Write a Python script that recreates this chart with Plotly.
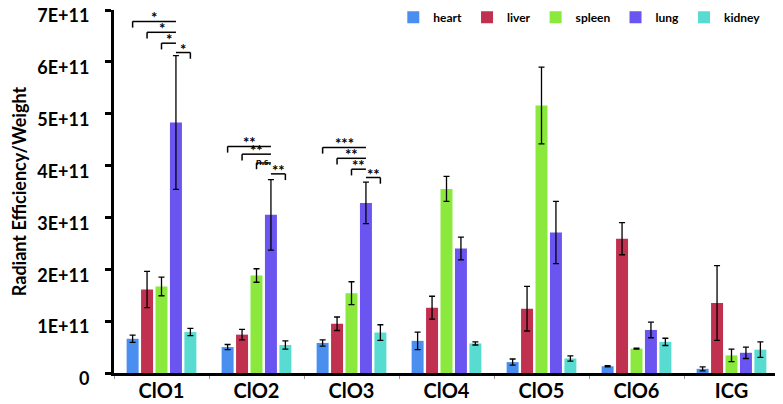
import plotly.graph_objects as go

# data (values in units of 1E+11)
categories = ["ClO1", "ClO2", "ClO3", "ClO4", "ClO5", "ClO6", "ICG"]
organs = ["heart", "liver", "spleen", "lung", "kidney"]

heart = [0.66, 0.50, 0.58, 0.62, 0.21, 0.13, 0.08]
heart_err = [0.07, 0.05, 0.06, 0.17, 0.06, 0.01, 0.04]
liver = [1.61, 0.74, 0.95, 1.26, 1.24, 2.59, 1.35]
liver_err = [0.35, 0.10, 0.13, 0.22, 0.43, 0.31, 0.72]
spleen = [1.67, 1.88, 1.54, 3.55, 5.16, 0.47, 0.34]
spleen_err = [0.18, 0.13, 0.22, 0.24, 0.74, 0.01, 0.12]
lung = [4.83, 3.05, 3.28, 2.40, 2.71, 0.83, 0.39]
lung_err = [1.29, 0.68, 0.40, 0.22, 0.60, 0.15, 0.11]
kidney = [0.79, 0.54, 0.78, 0.57, 0.28, 0.60, 0.45]
kidney_err = [0.07, 0.08, 0.15, 0.03, 0.05, 0.07, 0.15]

colors = ["#4a8ff0", "#c0304f", "#8be83c", "#6b55f0", "#58dcd2"]

# significance brackets: (category, from organ, to organ, height, label)
sig_cat = [0, 0, 0, 0, 1, 1, 1, 1, 2, 2, 2, 2]
sig_from = [0, 1, 2, 3, 0, 1, 2, 3, 0, 1, 2, 3]
sig_to = [3, 3, 3, 4, 3, 3, 3, 4, 3, 3, 3, 4]
sig_y = [6.78, 6.57, 6.36, 6.18, 4.37, 4.22, 4.05, 3.84, 4.35, 4.14, 3.93, 3.77]
sig_text = ["*", "*", "*", "*", "**", "**", "n.s.", "**", "***", "**", "**", "**"]

SCALE = 1e11
BARGAP = 0.24
FONT = "Lato"

fig = go.Figure()

series = [(heart, heart_err), (liver, liver_err), (spleen, spleen_err),
          (lung, lung_err), (kidney, kidney_err)]

for name, color, (vals, errs) in zip(organs, colors, series):
    fig.add_trace(go.Bar(
        name=name,
        x=categories,
        y=[v * SCALE for v in vals],
        marker_color=color,
        marker_line_width=0,
        error_y=dict(
            type="data",
            array=[e * SCALE for e in errs],
            color="black",
            thickness=1.3,
            width=3
        )
    ))

# brackets
slot = (1 - BARGAP) / len(organs)
drop = 0.12 * SCALE
for c, a, b, h, txt in zip(sig_cat, sig_from, sig_to, sig_y, sig_text):
    x0 = c + (a - 2) * slot
    x1 = c + (b - 2) * slot
    y = h * SCALE
    line = dict(color="black", width=1.5)
    fig.add_shape(type="line", xref="x", yref="y", x0=x0, x1=x1, y0=y, y1=y, line=line)
    if b == 4:
        fig.add_shape(type="line", xref="x", yref="y", x0=x1, x1=x1, y0=y, y1=y - drop, line=line)
    else:
        fig.add_shape(type="line", xref="x", yref="y", x0=x0, x1=x0, y0=y, y1=y - drop, line=line)
    star = txt != "n.s."
    fig.add_annotation(
        x=(x0 + x1) / 2, y=y, xref="x", yref="y",
        text=txt, showarrow=False, yanchor="bottom",
        yshift=-7 if star else -6,
        font=dict(family=FONT, size=15 if star else 10, color="black", weight="bold")
    )

# page body adds an 8px margin, so the figure is sized to fit the window
fig.update_layout(
    width=775,
    height=396,
    template="plotly_white",
    paper_bgcolor="white",
    plot_bgcolor="white",
    margin=dict(l=106, r=4, t=2, b=31, autoexpand=False),
    bargap=BARGAP,
    bargroupgap=0.17,
    font=dict(family=FONT, size=14, color="black"),
    showlegend=True,
    legend=dict(
        orientation="h",
        x=0.42,
        xanchor="left",
        y=1.02,
        yanchor="top",
        font=dict(family=FONT, size=12, color="black", weight="bold"),
        itemwidth=30,
        bgcolor="rgba(0,0,0,0)"
    )
)

fig.update_xaxes(
    showgrid=False,
    showline=True,
    linecolor="black",
    linewidth=3,
    ticks="outside",
    tickson="boundaries",
    ticklen=3,
    tickcolor="#999999",
    ticklabelstandoff=-2,
    tickfont=dict(family=FONT, size=20, color="black", weight="bold")
)

fig.update_yaxes(
    range=[0, 7 * SCALE],
    tickvals=[i * SCALE for i in range(8)],
    ticktext=["0"] + ["%dE+11" % i for i in range(1, 8)],
    showgrid=False,
    zeroline=False,
    showline=True,
    linecolor="black",
    linewidth=3,
    ticks="outside",
    ticklen=6,
    tickwidth=3,
    tickcolor="black",
    ticklabelstandoff=12,
    ticklabelshift=6,
    ticklabeloverflow="allow",
    automargin=False,
    tickfont=dict(family=FONT, size=18, color="black", weight="bold"),
    title=dict(
        text="Radiant Efficiency/Weight",
        font=dict(family=FONT, size=18, color="black", weight="bold"),
        standoff=37
    )
)

fig.write_html("out.html")
